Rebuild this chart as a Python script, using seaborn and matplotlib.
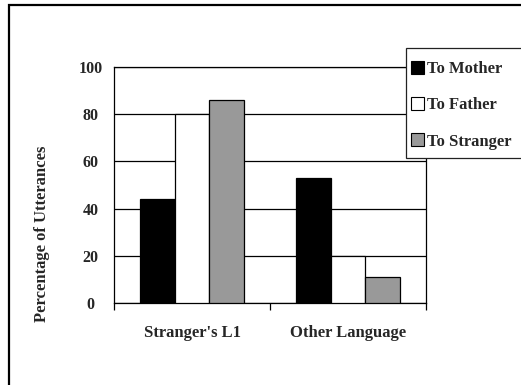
import matplotlib
matplotlib.use("Agg")
import matplotlib.pyplot as plt
from matplotlib.patches import Rectangle
import seaborn as sns
import pandas as pd

categories = ["Stranger's L1", "Other Language"]
series = ["To Mother", "To Father", "To Stranger"]
to_mother = [44, 53]
to_father = [80, 20]
to_stranger = [86, 11]
y_ticks = [0, 20, 40, 60, 80, 100]

df = pd.DataFrame({
    "category": categories * 3,
    "series": [series[0]] * 2 + [series[1]] * 2 + [series[2]] * 2,
    "value": to_mother + to_father + to_stranger,
})

sns.set_theme(style="white")
plt.rcParams["font.family"] = ["Liberation Serif", "DejaVu Serif"]
plt.rcParams["font.weight"] = "bold"

W, H = 521, 385
fig = plt.figure(figsize=(W / 100, H / 100), dpi=100)
ax = fig.add_axes([114 / W, 1 - 303 / H, 312 / W, 236 / H])

palette = {"To Mother": "#000000", "To Father": "#ffffff", "To Stranger": "#999999"}
sns.barplot(data=df, x="category", y="value", hue="series", order=categories,
            hue_order=series, palette=palette, width=0.663, gap=0,
            edgecolor="black", linewidth=0.9, saturation=1, ax=ax, legend=False,
            zorder=3)

ax.set_ylim(0, 100)
ax.set_xlim(-0.5, 1.5)
ax.set_yticks(y_ticks)
ax.yaxis.grid(True, color="black", linewidth=0.9, zorder=0)
ax.set_axisbelow(True)
ax.tick_params(axis="y", length=0, pad=17)
for lbl in ax.get_yticklabels():
    lbl.set_horizontalalignment("center")
    lbl.set_fontsize(11.5)
    lbl.set_fontweight("bold")

# category separators as tick marks, names centred between them
ax.set_xticks([-0.5, 0.5, 1.5])
ax.set_xticklabels([])
ax.set_xticks([0, 1], minor=True)
ax.set_xticklabels(categories, minor=True, fontsize=12, fontweight="bold")
ax.tick_params(axis="x", which="major", length=5, width=0.9, direction="out",
               color="black", bottom=True)
ax.tick_params(axis="x", which="minor", length=0, pad=16)
ax.set_xlabel("")
ax.set_ylabel("")

for side in ["left", "right", "top", "bottom"]:
    ax.spines[side].set_visible(True)
    ax.spines[side].set_color("black")
    ax.spines[side].set_linewidth(0.9)

fig.text(42 / W, 1 - 234 / H, "Percentage of Utterances", rotation=90,
         ha="center", va="center", fontsize=12, fontweight="bold")

# legend box runs past the right edge of the chart
fig.patches.append(Rectangle((406 / W, 1 - 158 / H), 130 / W, 110 / H,
                             transform=fig.transFigure, facecolor="white",
                             edgecolor="#222222", linewidth=0.9, zorder=4))

handles = [Rectangle((0, 0), 1, 1, facecolor=palette[s], edgecolor="black",
                     linewidth=0.8) for s in series]
leg = fig.legend(handles, series, loc="upper left",
                 bbox_to_anchor=(411 / W, 1 - 61 / H), borderaxespad=0,
                 frameon=False, prop={"size": 12, "weight": "bold"},
                 handlelength=0.8, handleheight=0.8, handletextpad=0.15,
                 labelspacing=1.2, borderpad=0)
leg.set_zorder(5)

# outer chart frame
fig.patches.append(Rectangle((9 / W, -0.1), 1.2, 1 - 5 / H + 0.1,
                             transform=fig.transFigure, fill=False,
                             edgecolor="black", linewidth=1.6))

fig.savefig("out.png", dpi=100)
